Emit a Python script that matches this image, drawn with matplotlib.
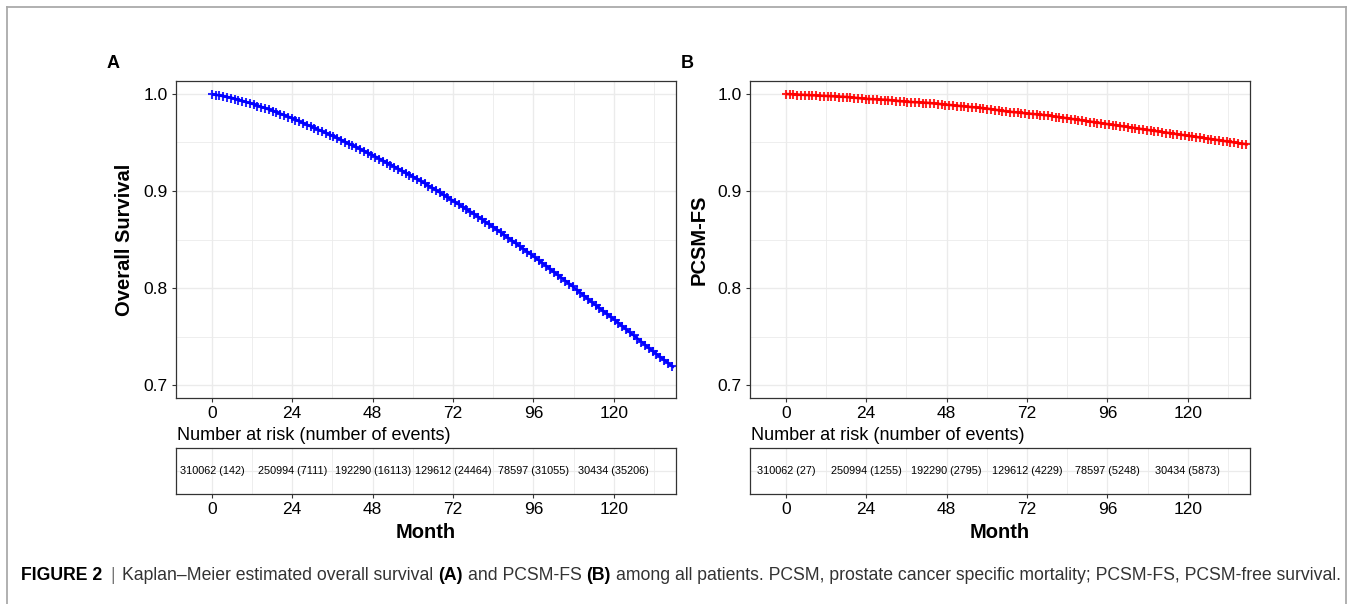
import numpy as np
import matplotlib
matplotlib.use("Agg")
import matplotlib.pyplot as plt
from matplotlib.lines import Line2D
from matplotlib.path import Path
from matplotlib.patheffects import AbstractPathEffect, Normal
import matplotlib.transforms as mtransforms
from matplotlib import font_manager

plt.rcParams['font.family'] = ['Liberation Sans', 'DejaVu Sans']

# ---------------- data ----------------
months = [0, 6, 12, 18, 24, 30, 36, 42, 48, 54, 60, 66, 72, 78, 84, 90,
          96, 102, 108, 114, 120, 126, 132, 138]
os_surv = [1.000, 0.996, 0.990, 0.983, 0.975, 0.966, 0.957, 0.947, 0.937,
           0.926, 0.915, 0.903, 0.890, 0.877, 0.863, 0.848, 0.833, 0.817,
           0.801, 0.784, 0.768, 0.751, 0.734, 0.718]
pcsm_surv = [1.000, 0.999, 0.998, 0.997, 0.995, 0.994, 0.992, 0.991, 0.989,
             0.987, 0.985, 0.982, 0.980, 0.978, 0.975, 0.972, 0.969, 0.966,
             0.963, 0.960, 0.957, 0.954, 0.951, 0.948]

risk_times = [0, 24, 48, 72, 96, 120]
os_at_risk = [310062, 250994, 192290, 129612, 78597, 30434]
os_events = [142, 7111, 16113, 24464, 31055, 35206]
pcsm_at_risk = [310062, 250994, 192290, 129612, 78597, 30434]
pcsm_events = [27, 1255, 2795, 4229, 5248, 5873]

x_major = [0, 24, 48, 72, 96, 120]
x_minor = [12, 36, 60, 84, 108, 132]
y_major = [0.7, 0.8, 0.9, 1.0]
y_minor = [0.75, 0.85, 0.95]

panel_labels = ["A", "B"]
y_titles = ["Overall Survival", "PCSM-FS"]
colors = ["#0000FF", "#FF0000"]

caption_parts = [
    ("FIGURE 2", "bold", "#000000"),
    ("|", "normal", "#777777"),
    ("Kaplan–Meier estimated overall survival", "normal", "#333333"),
    ("(A)", "bold", "#000000"),
    ("and PCSM-FS", "normal", "#333333"),
    ("(B)", "bold", "#000000"),
    ("among all patients. PCSM, prostate cancer specific mortality; PCSM-FS, PCSM-free survival.",
     "normal", "#333333"),
]

# narrow font for the risk-table cells if installed
_names = {f.name for f in font_manager.fontManager.ttflist}
if "Liberation Sans Narrow" in _names:
    TABLE_FONT = ["Liberation Sans Narrow", "DejaVu Sans"]
    TABLE_FS = 9.0
else:
    TABLE_FONT = ["Liberation Sans", "DejaVu Sans"]
    TABLE_FS = 7.8


# ---------------- censor-mark style (drawn along the rendered line) ----------------
class CensorPlus(AbstractPathEffect):
    """Draws '+' censoring marks at regular screen spacing along a line."""

    def __init__(self, spacing_px, size_px, lw, color, alpha=1.0):
        super().__init__()
        self.spacing = spacing_px
        self.size = size_px
        self.lw = lw
        self.color = color
        self.alpha = alpha

    def draw_path(self, renderer, gc, tpath, affine, rgbFace=None):
        verts = affine.transform(tpath.vertices)
        xs, ys = verts[:, 0], verts[:, 1]
        sx = np.arange(xs[0], xs[-1], self.spacing)
        sy = np.interp(sx, xs, ys)
        h = self.size / 2.0
        marker = Path([[-h, 0], [h, 0], [0, -h], [0, h]],
                      [Path.MOVETO, Path.LINETO, Path.MOVETO, Path.LINETO])
        gc0 = renderer.new_gc()
        gc0.copy_properties(gc)
        gc0.set_foreground(self.color)
        gc0.set_linewidth(self.lw)
        gc0.set_alpha(self.alpha)
        gc0.set_dashes(0, None)
        renderer.draw_markers(gc0, marker, mtransforms.IdentityTransform(),
                              Path(np.column_stack([sx, sy])),
                              mtransforms.IdentityTransform())
        gc0.restore()


W, H = 1352, 604
fig = plt.figure(figsize=(W / 100, H / 100), dpi=100)


def fx(px):
    return px / W


def fy(py):
    return 1 - py / H


GRID = "#EBEBEB"
SPINE = "#333333"
XLIM = (-10.7, 138.6)
YLIM = (0.6866, 1.0134)

lefts = [176, 750]
survs = [os_surv, pcsm_surv]
at_risk = [os_at_risk, pcsm_at_risk]
events = [os_events, pcsm_events]

for i in range(2):
    L = lefts[i]
    ax = fig.add_axes([fx(L), fy(398), 500 / W, 317 / H])
    ax.set_xlim(*XLIM)
    ax.set_ylim(*YLIM)
    ax.set_xticks(x_major)
    ax.set_xticks(x_minor, minor=True)
    ax.set_yticks(y_major)
    ax.set_yticks(y_minor, minor=True)
    ax.set_yticklabels([f"{v:.1f}" for v in y_major])
    ax.grid(True, which="major", color=GRID, lw=1.0)
    ax.grid(True, which="minor", color=GRID, lw=0.6)
    ax.set_axisbelow(True)
    ax.tick_params(which="major", direction="out", length=2.8, width=0.8,
                   color=SPINE, labelsize=12.5, labelcolor="black", pad=3.2)
    ax.tick_params(which="minor", length=0)
    for s in ax.spines.values():
        s.set_color(SPINE)
        s.set_linewidth(0.9)
    ax.plot(months, survs[i], color=colors[i], lw=1.8, solid_capstyle="butt",
            path_effects=[CensorPlus(spacing_px=3.8, size_px=9.0, lw=1.5,
                                     color=colors[i], alpha=0.85),
                          Normal()])
    ax.set_ylabel(y_titles[i], fontsize=14.5, fontweight="bold")
    ax.yaxis.set_label_coords(-51 / 500, 0.5)
    ax.yaxis.label.set_va("center")

    fig.text(fx(L - 63), fy(63), panel_labels[i], fontsize=13, fontweight="bold",
             ha="center", va="center")

    # risk table
    fig.text(fx(L + 1), fy(436), "Number at risk (number of events)",
             fontsize=13, ha="left", va="center")
    tb = fig.add_axes([fx(L), fy(494), 500 / W, 46 / H])
    tb.set_xlim(*XLIM)
    tb.set_ylim(0, 1)
    tb.set_xticks(x_major)
    tb.set_xticks(x_minor, minor=True)
    tb.set_yticks([0.5])
    tb.set_yticklabels([])
    tb.grid(True, which="major", color=GRID, lw=0.9)
    tb.grid(True, which="minor", axis="x", color=GRID, lw=0.6)
    tb.set_axisbelow(True)
    tb.tick_params(axis="y", length=0)
    tb.tick_params(axis="x", which="major", direction="out", length=2.8, width=0.8,
                   color=SPINE, labelsize=12.5, labelcolor="black", pad=3.2)
    tb.tick_params(which="minor", length=0)
    for s in tb.spines.values():
        s.set_color(SPINE)
        s.set_linewidth(0.9)
    for t, n, e in zip(risk_times, at_risk[i], events[i]):
        tb.text(t, 0.5, f"{n} ({e})", ha="center", va="center",
                fontsize=TABLE_FS, family=TABLE_FONT)
    tb.set_xlabel("Month", fontsize=14.5, fontweight="bold")
    tb.xaxis.set_label_coords(0.5, (494 - 532) / 46)
    tb.xaxis.label.set_va("center")

# figure frame (left, top, right lines)
frame_c = "#AAAAAA"
fig.add_artist(Line2D([fx(6.5), fx(6.5)], [0, fy(6.5)], color=frame_c, lw=1.3))
fig.add_artist(Line2D([fx(6.5), fx(1345.5)], [fy(6.5), fy(6.5)], color=frame_c, lw=1.3))
fig.add_artist(Line2D([fx(1345.5), fx(1345.5)], [fy(6.5), 0], color=frame_c, lw=1.3))

# caption, laid out piece by piece
fig.canvas.draw()
rend = fig.canvas.get_renderer()


def layout_caption(fs):
    x = 21.0
    texts = []
    probe1 = fig.text(0, 0, "x x", fontsize=fs)
    probe2 = fig.text(0, 0, "xx", fontsize=fs)
    space = probe1.get_window_extent(rend).width - probe2.get_window_extent(rend).width
    probe1.remove()
    probe2.remove()
    for k, (s, w, c) in enumerate(caption_parts):
        gap = space * (1.6 if s == "|" or (k > 0 and caption_parts[k - 1][0] == "|") else 1.0)
        if k > 0:
            x += gap
        t = fig.text(fx(x), fy(575), s, fontsize=fs, fontweight=w, color=c,
                     ha="left", va="center")
        x = t.get_window_extent(rend).x1
        texts.append(t)
    return texts, x


target = 1343.0
fs = 11.0
for _ in range(4):
    texts, xend = layout_caption(fs)
    if abs(xend - target) < 1.5:
        break
    for t in texts:
        t.remove()
    fs = fs * (target - 21) / (xend - 21)
    texts, xend = None, None
if texts is None:
    layout_caption(fs)

fig.savefig("out.png", dpi=100)
